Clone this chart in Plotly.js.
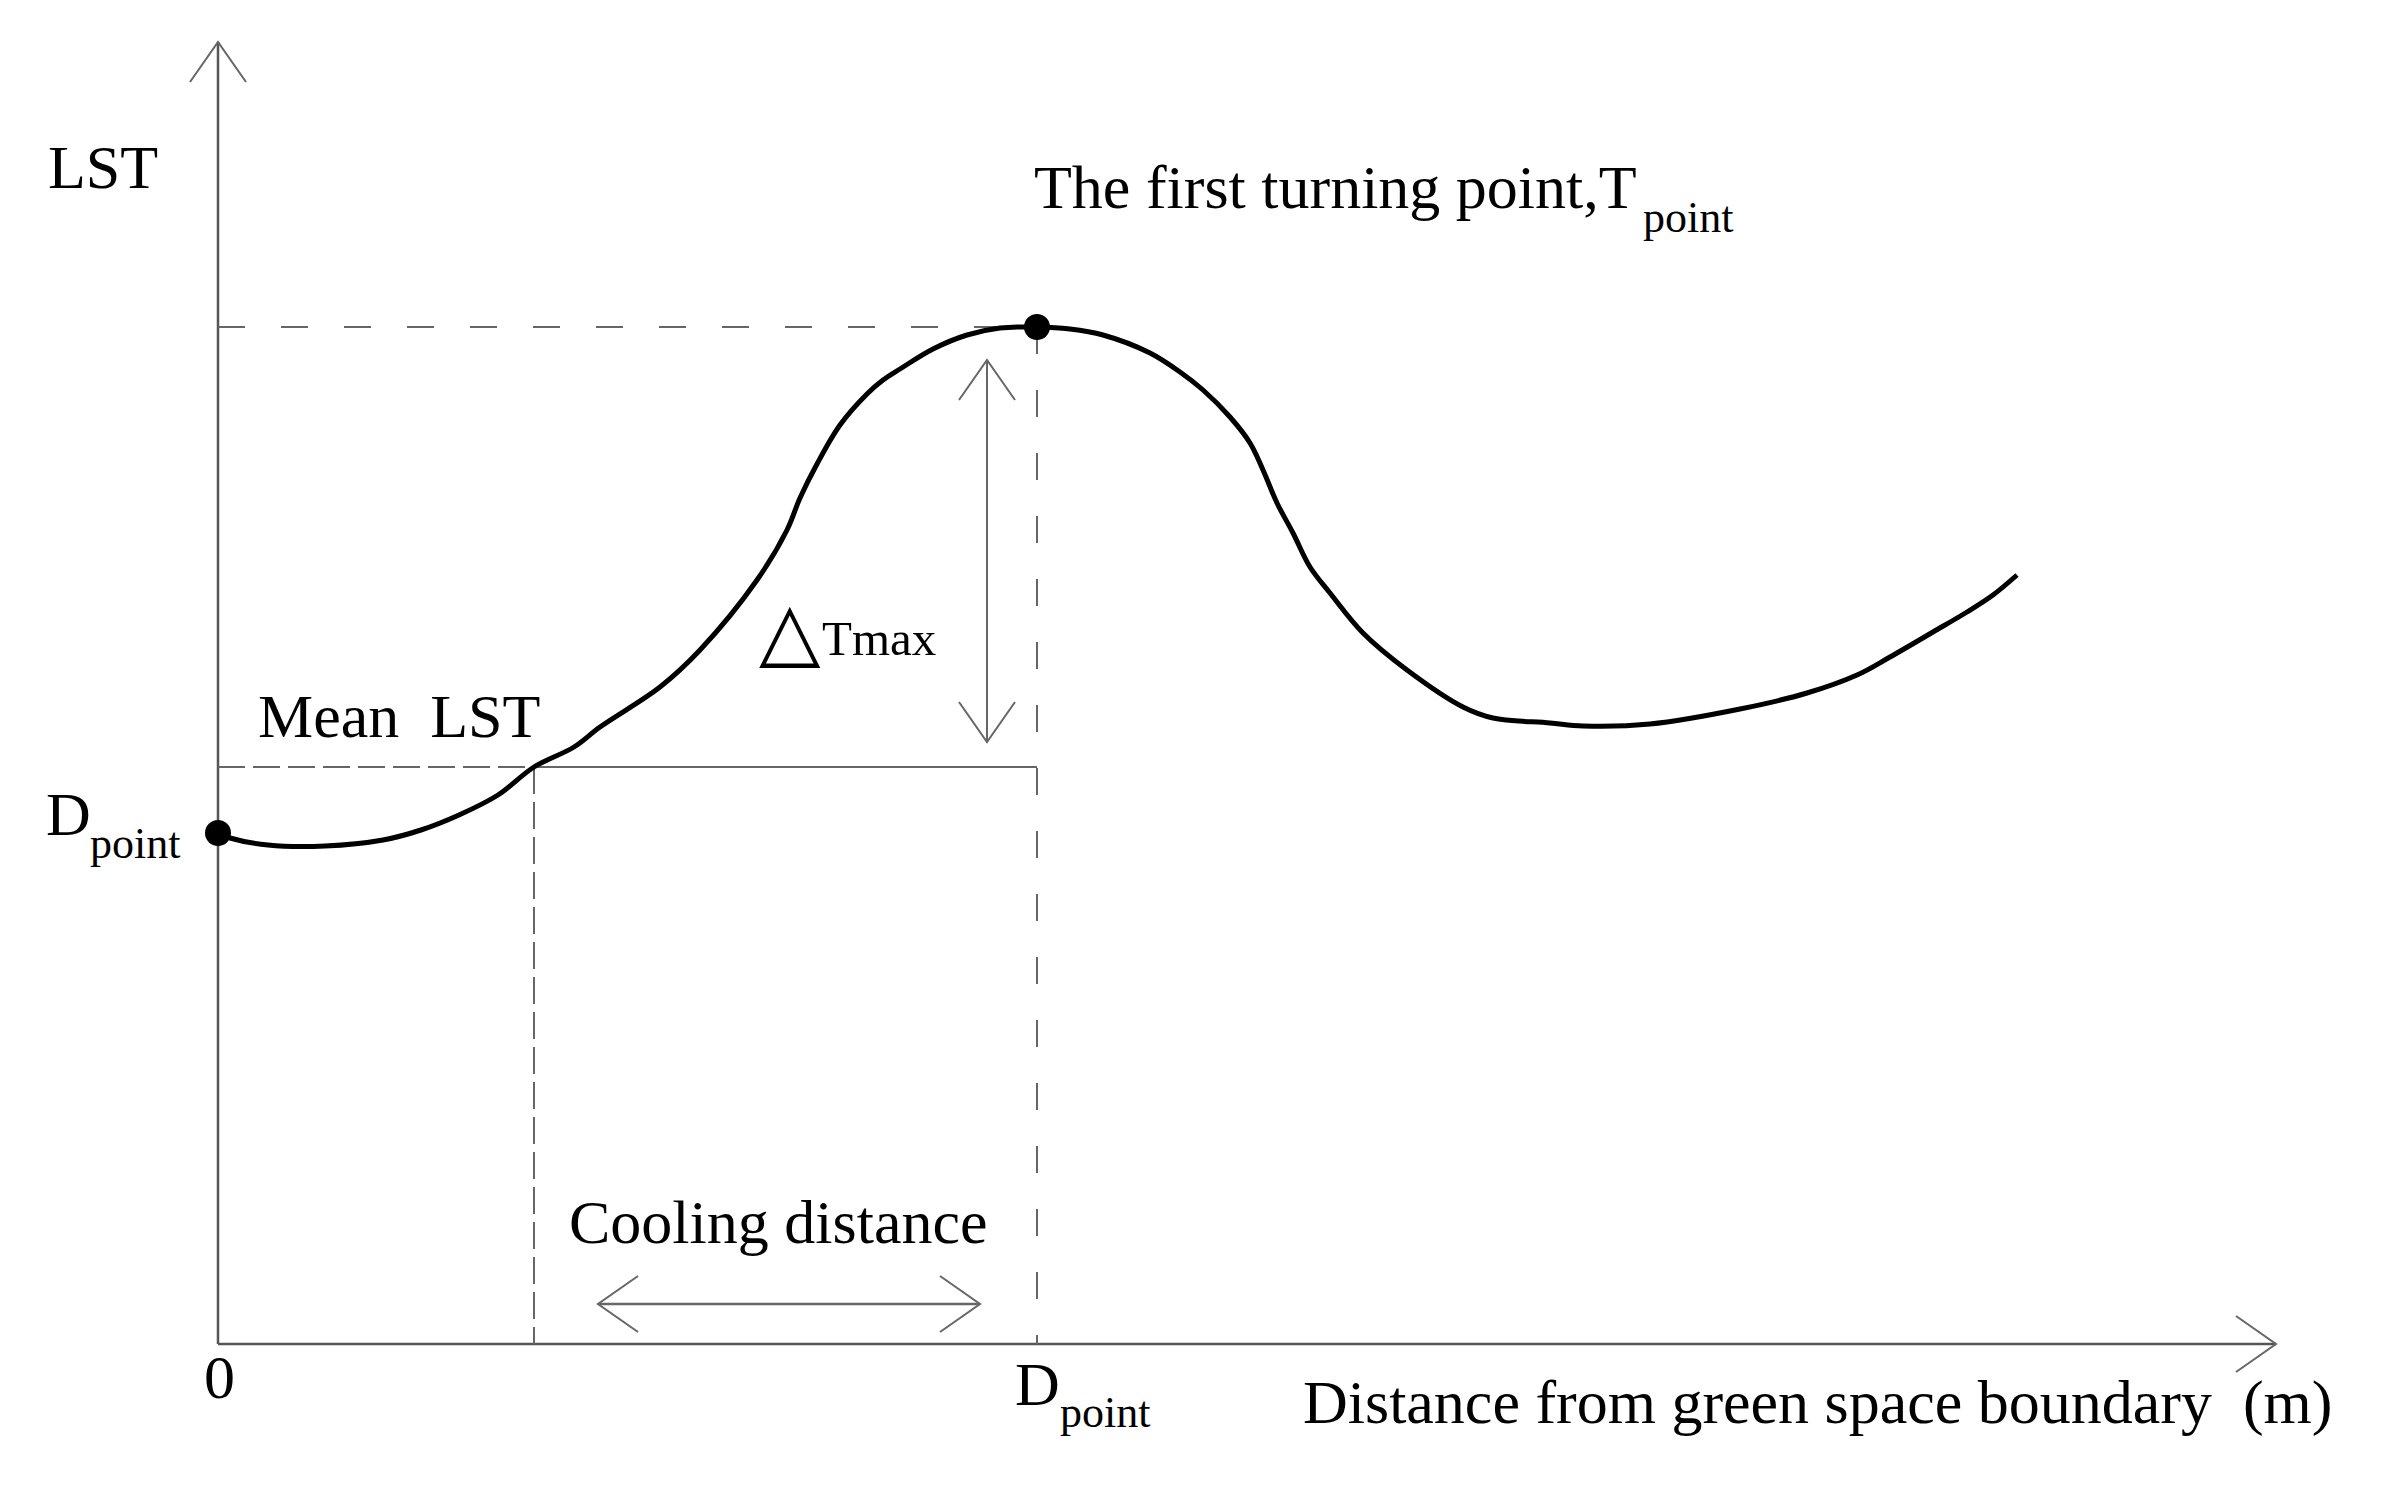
<!DOCTYPE html>
<html>
<head>
<meta charset="utf-8">
<script src="https://cdn.plot.ly/plotly-3.0.1.min.js"></script>
<style>
  html, body { margin: 0; padding: 0; background: #fff; }
  #plotArea { width: 2391px; height: 1494px; }
</style>
</head>
<body>
<div id="plotArea"></div>
<script>
// ---------- data (schematic units, origin at the axes corner) ----------
// LST curve against distance from green space boundary
const distance = [0, 1.2, 5.0, 10.7, 16.5, 20.3, 24.1, 28.0, 31.6, 35.6, 38.2, 44.2, 48.2,
  53.9, 56.9, 58.2, 59.9, 62.2, 64.9, 66.5, 68.2, 71.5, 74.9, 78.2, 81.9, 85.2, 88.5, 93.2,
  96.2, 98.5, 101.2, 103.2, 104.5, 105.9, 107.5, 109.2, 111.2, 114.5, 118.9, 124.5,
  127.5, 133.2, 136.5, 143.2, 152.2, 158.9, 163.9, 167.2, 171.5, 174.9, 177.5, 179.9];
const lst = [51.1, 50.6, 49.9, 49.8, 50.4, 51.4, 52.9, 54.9, 57.7, 59.7, 61.7, 65.7, 69.4,
  76.4, 81.4, 84.6, 88.0, 91.9, 95.0, 96.4, 97.5, 99.5, 100.9, 101.6, 101.7, 101.5, 100.9, 99.1,
  97.2, 95.4, 92.7, 90.1, 87.4, 84.1, 81.1, 77.7, 75.1, 71.1, 67.4, 63.7,
  62.6, 62.1, 61.8, 62.0, 63.5, 65.1, 66.9, 68.7, 71.2, 73.2, 74.9, 76.9];

// key points of the curve
const dPoint = 81.9;      // distance of the first turning point
const tPoint = 101.7;     // LST at the first turning point
const meanLST = 57.7;     // mean LST level
const coolStart = 31.6;   // where the curve crosses the mean LST
const startLST = 51.1;    // LST at the boundary

// axis extents (arrow tips)
const xAxisEnd = 205.8;
const yAxisEnd = 130.2;

// labels
const labels = {
  yTitle: 'LST',
  turning: 'The first turning point,T',
  meanTitle: 'Mean \u00a0LST',
  dMain: 'D',
  sub: 'point',
  delta: '\u25B3',
  tmax: 'Tmax',
  cooling: 'Cooling distance',
  zero: '0',
  xTitle: 'Distance from green space boundary \u00a0(m)'
};

// ---------- styles ----------
const serif = 'Liberation Serif, Times New Roman, serif';
const axisColor = '#555555';
const guideColor = '#666666';
const longDash = '27px,36px';
const shortDash = '27px,8px';

function line(x, y, color, width, dash) {
  return {
    x: x, y: y, mode: 'lines', type: 'scatter', hoverinfo: 'skip',
    line: { color: color, width: width, dash: dash || 'solid' }
  };
}

// open "V" arrowheads
function headUp(x, y) { return line([x - 2.8, x, x + 2.8], [y - 4.0, y, y - 4.0], guideColor, 2); }
function headDown(x, y) { return line([x - 2.8, x, x + 2.8], [y + 4.0, y, y + 4.0], guideColor, 2); }
function headRight(x, y) { return line([x - 4.0, x, x - 4.0], [y + 2.8, y, y - 2.8], guideColor, 2); }
function headLeft(x, y) { return line([x + 4.0, x, x + 4.0], [y + 2.8, y, y - 2.8], guideColor, 2); }

const traces = [
  // axes
  line([0, 0], [0, yAxisEnd], axisColor, 2.5),
  line([0, xAxisEnd], [0, 0], axisColor, 2.5),
  headUp(0, yAxisEnd),
  headRight(xAxisEnd, 0),
  // guides at turning point
  line([0, dPoint], [tPoint, tPoint], guideColor, 2, longDash),
  line([dPoint, dPoint], [tPoint, 0], guideColor, 2, longDash),
  // mean LST level
  line([0, coolStart], [meanLST, meanLST], guideColor, 2, shortDash),
  line([coolStart, dPoint], [meanLST, meanLST], guideColor, 2),
  line([coolStart, coolStart], [meanLST, 0], guideColor, 2, shortDash),
  // delta Tmax double arrow
  line([76.9, 76.9], [98.4, 60.2], guideColor, 2),
  headUp(76.9, 98.4),
  headDown(76.9, 60.2),
  // cooling distance double arrow
  line([38.0, 76.2], [4.0, 4.0], guideColor, 2.5),
  headLeft(38.0, 4.0),
  headRight(76.2, 4.0),
  // LST curve
  {
    x: distance, y: lst, mode: 'lines', type: 'scatter', hoverinfo: 'skip',
    line: { color: '#000', width: 5, shape: 'spline', smoothing: 1.0 }
  },
  // D point and T point markers
  {
    x: [0, dPoint], y: [startLST, tPoint], mode: 'markers', type: 'scatter', hoverinfo: 'skip',
    marker: { color: '#000', size: 26 }
  }
];

function label(text, x, y, size, xanchor) {
  return {
    text: text, x: x, y: y, xref: 'x', yref: 'y', showarrow: false,
    xanchor: xanchor || 'left', yanchor: 'middle',
    font: { family: serif, size: size, color: '#000' }
  };
}

const annotations = [
  label(labels.yTitle, -11.55, 117.7, 62, 'center'),
  label(labels.turning, 81.4, 115.7, 62),
  label(labels.sub, 142.3, 112.7, 44),
  label(labels.meanTitle, 3.8, 62.8, 62),
  label(labels.dMain, -17.4, 53.0, 62),
  label(labels.sub, -13.0, 50.1, 44),
  {
    text: labels.delta, x: 57.2, y: 71.4, xref: 'x', yref: 'y', showarrow: false,
    xanchor: 'center', yanchor: 'middle',
    font: { family: 'DejaVu Sans, sans-serif', size: 80, color: '#000' }
  },
  label(labels.tmax, 60.2, 70.6, 49),
  label(labels.cooling, 34.9, 12.2, 62),
  label(labels.zero, 0.1, -3.3, 62, 'center'),
  label(labels.dMain, 79.5, -4.0, 62),
  label(labels.sub, 84.0, -6.8, 44),
  label(labels.xTitle, 108.3, -5.8, 62)
];

const layout = {
  width: 2391,
  height: 1494,
  margin: { l: 0, r: 0, t: 0, b: 0, pad: 0 },
  paper_bgcolor: '#fff',
  plot_bgcolor: '#fff',
  showlegend: false,
  xaxis: { range: [-21.8, 217.3], visible: false, fixedrange: true },
  yaxis: { range: [-15.0, 134.4], visible: false, fixedrange: true },
  annotations: annotations
};

Plotly.newPlot('plotArea', traces, layout, { displayModeBar: false, staticPlot: true });
</script>
</body>
</html>
